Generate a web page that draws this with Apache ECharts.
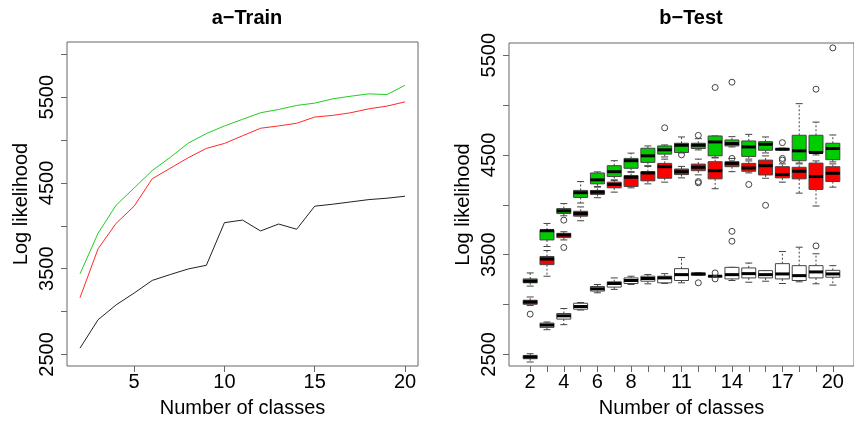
<!DOCTYPE html>
<html>
<head>
<meta charset="utf-8">
<script src="https://cdn.jsdelivr.net/npm/echarts@6/dist/echarts.min.js"></script>
<style>
html,body{margin:0;padding:0;background:#fff;}
#c{width:854px;height:423px;}
</style>
</head>
<body>
<div id="c"></div>
<script>
// ---- data ----
const classes = [2,3,4,5,6,7,8,9,10,11,12,13,14,15,16,17,18,19,20];
const trainGreen = [3440,3913,4241,4441,4645,4799,4965,5076,5165,5242,5319,5357,5404,5431,5481,5512,5539,5531,5639];
const trainRed   = [3162,3732,4029,4229,4549,4672,4795,4903,4961,5050,5138,5165,5196,5269,5288,5319,5365,5396,5446];
const trainBlack = [2573,2904,3078,3216,3363,3432,3497,3540,4037,4067,3940,4021,3960,4229,4252,4279,4306,4322,4345];

// [min, Q1, median, Q3, max] per class
const testGreen = [
  [3185,3218,3234,3257,3317],[3582,3648,3740,3747,3813],[3890,3912,3939,3962,4012],
  [4018,4074,4121,4144,4233],[4177,4210,4250,4319,4330],[4243,4283,4332,4392,4442],
  [4326,4366,4442,4465,4518],[4392,4425,4491,4567,4590],[4480,4508,4551,4590,4600],
  [4520,4524,4597,4617,4680],[4550,4564,4597,4617,4663],[4475,4491,4630,4690,4690],
  [4580,4590,4614,4650,4683],[4458,4485,4580,4640,4706],[4520,4547,4607,4633,4680],
  [4550,4552,4557,4562,4568],[4419,4442,4541,4697,5014],[4500,4518,4524,4697,4829],
  [4430,4452,4564,4617,4700]
];
const testRed = [
  [2990,3003,3026,3043,3076],[3284,3400,3456,3482,3542],[3648,3671,3697,3714,3730],
  [3840,3886,3912,3935,3979],[4071,4104,4127,4144,4184],[4127,4170,4204,4227,4250],
  [4170,4184,4276,4293,4332],[4210,4240,4319,4332,4385],[4227,4266,4382,4415,4458],
  [4270,4303,4332,4359,4385],[4300,4342,4376,4408,4458],[4161,4260,4342,4432,4470],
  [4332,4382,4415,4432,4465],[4320,4336,4369,4415,4440],[4266,4299,4392,4448,4490],
  [4227,4270,4303,4382,4410],[4117,4260,4336,4376,4410],[3988,4154,4283,4418,4440],
  [4177,4233,4316,4382,4410]
];
const testWhite = [
  [2424,2457,2474,2490,2507],[2748,2771,2794,2814,2825],[2798,2854,2887,2910,2960],
  [2945,2953,2980,3013,3020],[3118,3135,3158,3181,3201],[3152,3175,3211,3228,3267],
  [3201,3211,3241,3267,3284],[3208,3234,3261,3284,3301],[3212,3218,3267,3284,3310],
  [3218,3241,3300,3360,3472],[3291,3294,3307,3314,3317],[3280,3282,3284,3287,3290],
  [3241,3257,3300,3373,3373],[3224,3267,3310,3367,3416],[3234,3267,3300,3340,3340],
  [3211,3257,3307,3410,3532],[3228,3241,3290,3390,3575],[3208,3267,3327,3390,3509],
  [3195,3274,3307,3343,3390]
];
// outliers [class, value]
const outGreen = [[4,3846],[10,4772],[11,4501],[12,4696],[13,5176],[14,5229],[17,4623],[17,4465],[17,4448],[19,5159],[20,5573]];
const outRed   = [[2,2904],[4,3572],[12,4233],[12,4220],[14,4465],[15,4204],[16,3995]];
const outWhite = [[12,3218],[13,3317],[13,3257],[14,3734],[14,3635],[19,3588]];

const leftTicksX = [5,10,15,20];
const leftTicksY = [2500,3000,3500,4000,4500,5000,5500,6000];
const leftLabelsY = [2500,3500,4500,5500];
const rightTicksY = [2500,3000,3500,4000,4500,5000,5500];
const rightLabelsY = [2500,3500,4500,5500];
const rightLabelsX = [2,4,6,8,11,14,17,20];

// ---- chart ----
const FONT = 'Liberation Sans, Arial, sans-serif';
const frame = '#666';
const chart = echarts.init(document.getElementById('c'), null, {renderer:'canvas'});

function boxRender(fill){
  return function(params, api){
    const x = api.value(0);
    const c = i => api.coord([x, api.value(i)]);
    const pMin=c(1), pQ1=c(2), pMed=c(3), pQ3=c(4), pMax=c(5);
    const px = pMin[0], hw = 7, cw = 3.5, st = '#444';
    return {type:'group', children:[
      {type:'line', shape:{x1:px,y1:pQ3[1],x2:px,y2:pMax[1]}, style:{stroke:st,lineWidth:1,lineDash:[2,2]}},
      {type:'line', shape:{x1:px,y1:pQ1[1],x2:px,y2:pMin[1]}, style:{stroke:st,lineWidth:1,lineDash:[2,2]}},
      {type:'line', shape:{x1:px-cw,y1:pMax[1],x2:px+cw,y2:pMax[1]}, style:{stroke:st,lineWidth:1}},
      {type:'line', shape:{x1:px-cw,y1:pMin[1],x2:px+cw,y2:pMin[1]}, style:{stroke:st,lineWidth:1}},
      {type:'rect', shape:{x:px-hw,y:pQ3[1],width:2*hw,height:Math.max(pQ1[1]-pQ3[1],0.5)}, style:{fill:fill,stroke:st,lineWidth:1}},
      {type:'line', shape:{x1:px-hw,y1:pMed[1],x2:px+hw,y2:pMed[1]}, style:{stroke:'#000',lineWidth:3}}
    ]};
  };
}
const boxData = arr => classes.map((c,i)=>[c].concat(arr[i]));

const axisNameStyle = {fontSize:20, color:'#000', fontFamily:FONT};
const labelStyle = {fontSize:20, color:'#000', fontFamily:FONT};
const plain = v => String(v);

chart.setOption({
  animation:false,
  backgroundColor:'#fff',
  title:[
    {text:'a\u2212Train', left:242, top:3, textAlign:'center', textStyle:{fontSize:20,fontWeight:'bold',color:'#000',fontFamily:FONT}},
    {text:'b\u2212Test', left:686, top:3, textAlign:'center', textStyle:{fontSize:20,fontWeight:'bold',color:'#000',fontFamily:FONT}}
  ],
  grid:[
    {left:67, right:436, top:42, bottom:54, show:true, borderColor:frame, borderWidth:1, backgroundColor:'transparent'},
    {left:509, right:-8, top:43, bottom:54, show:true, borderColor:frame, borderWidth:1, backgroundColor:'transparent'}
  ],
  xAxis:[
    {gridIndex:0, type:'value', min:1.28, max:20.72,
     axisLine:{show:false}, splitLine:{show:false},
     axisTick:{show:true, customValues:leftTicksX, length:6, lineStyle:{color:frame}},
     axisLabel:{show:true, customValues:leftTicksX, margin:6, formatter:plain, ...labelStyle},
     name:'Number of classes', nameLocation:'middle', nameGap:32, nameTextStyle:axisNameStyle},
    {gridIndex:1, type:'value', min:0.74, max:21.26,
     axisLine:{show:false}, splitLine:{show:false},
     axisTick:{show:true, customValues:classes, length:6, lineStyle:{color:frame}},
     axisLabel:{show:true, customValues:rightLabelsX, margin:6, formatter:plain, ...labelStyle},
     name:'Number of classes', nameLocation:'middle', nameGap:32, nameTextStyle:axisNameStyle}
  ],
  yAxis:[
    {gridIndex:0, type:'value', min:2365, max:6144,
     axisLine:{show:false}, splitLine:{show:false},
     axisTick:{show:true, customValues:leftTicksY, length:6, lineStyle:{color:frame}},
     axisLabel:{show:true, customValues:leftLabelsY, rotate:90, margin:10, formatter:plain, ...labelStyle},
     name:'Log likelihood', nameLocation:'middle', nameGap:36, nameTextStyle:axisNameStyle},
    {gridIndex:1, type:'value', min:2384, max:5622,
     axisLine:{show:false}, splitLine:{show:false},
     axisTick:{show:true, customValues:rightTicksY, length:6, lineStyle:{color:frame}},
     axisLabel:{show:true, customValues:rightLabelsY, rotate:90, margin:10, formatter:plain, ...labelStyle},
     name:'Log likelihood', nameLocation:'middle', nameGap:36, nameTextStyle:axisNameStyle}
  ],
  series:[
    {type:'line', xAxisIndex:0, yAxisIndex:0, data:classes.map((c,i)=>[c,trainGreen[i]]), showSymbol:false, lineStyle:{color:'#22cc22',width:1}},
    {type:'line', xAxisIndex:0, yAxisIndex:0, data:classes.map((c,i)=>[c,trainRed[i]]), showSymbol:false, lineStyle:{color:'#ff2a2a',width:1}},
    {type:'line', xAxisIndex:0, yAxisIndex:0, data:classes.map((c,i)=>[c,trainBlack[i]]), showSymbol:false, lineStyle:{color:'#222',width:1}},
    {type:'custom', xAxisIndex:1, yAxisIndex:1, renderItem:boxRender('#ffffff'), data:boxData(testWhite), encode:{x:0,y:[1,2,3,4,5]}, clip:false},
    {type:'custom', xAxisIndex:1, yAxisIndex:1, renderItem:boxRender('#ff0000'), data:boxData(testRed), encode:{x:0,y:[1,2,3,4,5]}, clip:false},
    {type:'custom', xAxisIndex:1, yAxisIndex:1, renderItem:boxRender('#00cd00'), data:boxData(testGreen), encode:{x:0,y:[1,2,3,4,5]}, clip:false},
    {type:'scatter', xAxisIndex:1, yAxisIndex:1, data:outWhite.concat(outRed, outGreen), symbol:'circle', symbolSize:6,
     itemStyle:{color:'rgba(255,255,255,0)', borderColor:'#444', borderWidth:1, opacity:1}, z:5}
  ]
});
</script>
</body>
</html>
